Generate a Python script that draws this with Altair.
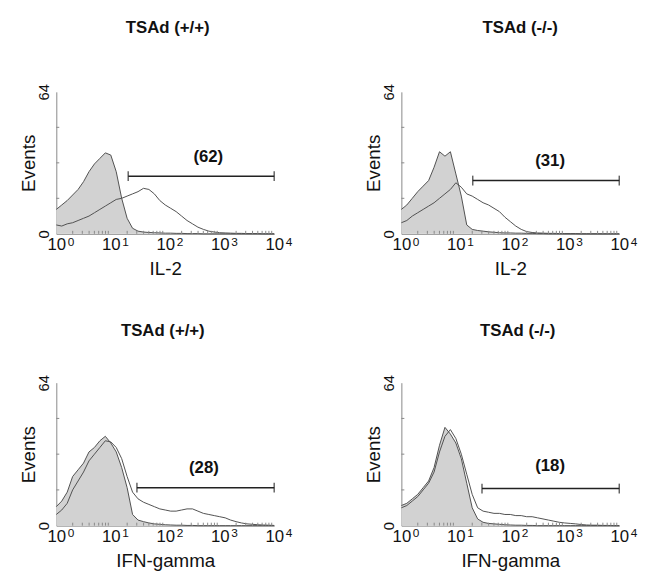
import math
import altair as alt
import pandas as pd

FONT = "Liberation Sans"
INK = "#111111"
CURVE = "#505050"
FILL = "#d2d2d2"

# fluorescence channel (log10 decade) for each histogram point
LOGX = [0.0, 0.1, 0.2, 0.3, 0.4, 0.5, 0.6, 0.7, 0.8, 0.9,
        1.0, 1.1, 1.2, 1.3, 1.4, 1.5, 1.6, 1.7, 1.8, 1.9,
        2.0, 2.1, 2.2, 2.3, 2.4, 2.5, 2.6, 2.7, 2.8, 2.9,
        3.0, 3.1, 3.2, 3.3, 3.4, 3.5, 3.6, 3.7, 3.8, 3.9, 4.0]

# IL-2, TSAd (+/+)
IL2_WT_CTRL = [11, 13, 15, 17.5, 20, 23.5, 28, 31.5, 34, 36.5,
               35.5, 28, 16, 7, 2.5, 1.2, 0.8, 0.6, 0.5, 0.4,
               0.3, 0.3, 0.2, 0.2, 0.1, 0.1, 0.1, 0, 0, 0,
               0, 0, 0, 0, 0, 0, 0, 0, 0, 0, 0]
IL2_WT_STIM = [4, 3.5, 4.5, 5, 6, 7, 8, 9.5, 11, 12.5,
               14, 15.5, 16, 17, 18, 19, 20.5, 20, 18, 15,
               13, 11.5, 10, 8, 6, 4.5, 3, 2, 1.2, 0.8,
               0.5, 0.4, 0.3, 0.2, 0.2, 0.1, 0.1, 0.1, 0, 0, 0]
# IL-2, TSAd (-/-)
IL2_KO_CTRL = [11, 13, 16, 19, 21.5, 24, 30, 37, 35, 37,
               27, 17, 4, 2, 1.5, 1.2, 0.9, 0.7, 0.5, 0.4,
               0.4, 0.3, 0.3, 0.2, 0.2, 0.1, 0.1, 0, 0, 0,
               0, 0, 0, 0, 0, 0, 0, 0, 0, 0, 0]
IL2_KO_STIM = [5, 6, 8, 9.5, 11, 12.5, 14, 16, 18, 20,
               23, 21, 18, 17, 15.5, 14, 13, 11.5, 10, 7.5,
               5.5, 3.5, 2, 1, 0.6, 0.4, 0.3, 0.2, 0.2, 0.1,
               0.1, 0.1, 0.1, 0, 0, 0, 0, 0, 0, 0, 0]
# IFN-gamma, TSAd (+/+)
IFN_WT_CTRL = [8.5, 11, 15, 22, 25, 28, 33, 35, 38, 40,
               37, 33, 26, 17, 5, 2.5, 1.8, 1.2, 0.8, 0.6,
               0.4, 0.3, 0.2, 0.2, 0.1, 0.1, 0, 0, 0, 0,
               0, 0, 0, 0, 0, 0, 0, 0, 0, 0, 0]
IFN_WT_STIM = [5, 7, 10, 16, 20, 24, 29, 32, 35, 38,
               37.5, 35, 30, 22, 15, 12, 10.5, 9.5, 8.5, 7.5,
               7, 6.5, 6.5, 7, 7.5, 7.5, 6.5, 5.5, 5, 4.5,
               4, 3.5, 2.5, 1.8, 1.2, 0.8, 0.6, 0.4, 0.3, 0.2, 0.1]
# IFN-gamma, TSAd (-/-)
IFN_KO_CTRL = [9, 10, 12, 14, 17, 20, 26, 36, 44, 41,
               37, 30, 19, 8, 3, 1.5, 1, 0.8, 0.6, 0.4,
               0.3, 0.2, 0.2, 0.1, 0.1, 0, 0, 0, 0, 0,
               0, 0, 0, 0, 0, 0, 0, 0, 0, 0, 0]
IFN_KO_STIM = [8, 9, 11, 13, 16, 19, 24, 33, 40, 43,
               39, 32, 23, 14, 8, 6.5, 6, 5.5, 5.5, 5,
               5, 4.5, 4.5, 4, 4, 3.5, 3, 2.5, 2, 1.5,
               1.2, 1, 0.8, 0.5, 0.3, 0.2, 0.2, 0.1, 0.1, 0, 0]

# marker gates: start decade, end decade, events level
GATE_START = [1.32, 1.31, 1.48, 1.48]
GATE_END = [4.0, 4.0, 4.0, 4.0]
GATE_LEVEL = [26, 24, 17, 16.6]
# gate percentages and their positions
GATE_TEXT = ["(62)", "(31)", "(28)", "(18)"]
TEXT_X = [2.79, 2.73, 2.71, 2.73]
TEXT_Y = [34.8, 33, 25.9, 26.5]

TITLES = ["TSAd (+/+)", "TSAd (-/-)", "TSAd (+/+)", "TSAd (-/-)"]
XTITLES = ["IL-2", "IL-2", "IFN-gamma", "IFN-gamma"]
DECADES = [0, 1, 2, 3, 4]
EXPONENTS = ["0", "1", "2", "3", "4"]
Y_TICKS = [16, 32, 48]
MINOR_X = [n + math.log10(k) for n in range(4) for k in range(2, 10)]

W, H1, H2 = 221, 144, 145


def panel(i, ctrl, stim, height, title_dx, title_offset):
    curves = pd.DataFrame({
        "logx": LOGX * 2,
        "count": list(ctrl) + list(stim),
        "series": ["ctrl"] * len(LOGX) + ["stim"] * len(LOGX),
    })
    xscale = alt.Scale(domain=[0, 4], nice=False, zero=False)
    xaxis = alt.Axis(values=DECADES, labelExpr="'10'",
                     ticks=False, grid=False, labelFlush=False, labelOverlap=False,
                     labelFontSize=17, labelPadding=3, labelFont=FONT, labelColor=INK,
                     title=XTITLES[i], titleFontSize=19, titleFontWeight="normal",
                     titleFont=FONT, titleColor=INK, titlePadding=7,
                     domainColor="#888888", domainWidth=1)
    x = alt.X("logx:Q", scale=xscale, axis=xaxis)
    y = alt.Y("count:Q", scale=alt.Scale(domain=[0, 64], nice=False),
              axis=alt.Axis(values=[0, 64], labelAngle=270, labelAlign="center",
                            labelBaseline="bottom", ticks=False, grid=False,
                            labelFlush=False, labelOverlap=False,
                            labelFontSize=15, labelPadding=5, labelFont=FONT, labelColor=INK,
                            title="Events", titleFontSize=19, titleFontWeight="normal",
                            titleFont=FONT, titleColor=INK, titlePadding=-2,
                            domainColor="#888888", domainWidth=1))
    base = alt.Chart(curves)
    area = base.transform_filter(alt.datum.series == "ctrl").mark_area(
        color=FILL, interpolate="linear").encode(x=x, y=y)
    lines = base.mark_line(color=CURVE, strokeWidth=1).encode(
        x=x, y=y, detail="series:N")

    gate_df = pd.DataFrame({"logx": [GATE_START[i]], "logx2": [GATE_END[i]],
                            "count": [GATE_LEVEL[i]]})
    gate = alt.Chart(gate_df).mark_rule(color="#222222", strokeWidth=1.5).encode(
        x=x, x2="logx2:Q", y=y)
    caps = alt.Chart(gate_df).transform_fold(
        ["logx", "logx2"], as_=["which", "pos"]
    ).mark_tick(orient="vertical", size=10, thickness=1.5, color="#222222").encode(
        x=alt.X("pos:Q", scale=xscale, axis=xaxis), y=y)
    text_df = pd.DataFrame({"logx": [TEXT_X[i]], "count": [TEXT_Y[i]],
                            "label": [GATE_TEXT[i]]})
    text = alt.Chart(text_df).mark_text(font=FONT, fontSize=17, fontWeight="bold",
                                        color=INK).encode(x=x, y=y, text="label:N")

    exps = alt.Chart(pd.DataFrame({"logx": DECADES, "exp": EXPONENTS})).mark_text(
        font=FONT, fontSize=12, color=INK, dx=15, baseline="top", align="center"
    ).encode(x=x, y=alt.value(height + 3), text="exp:N")

    minor = alt.Chart(pd.DataFrame({"logx": MINOR_X})).mark_rule(
        color="#888888", strokeWidth=1).encode(x=x, y=alt.value(height), y2=alt.value(height - 3))
    yt = alt.Chart(pd.DataFrame({"count": Y_TICKS})).mark_rule(
        color="#888888", strokeWidth=1).encode(y=y, x=alt.value(0), x2=alt.value(3))

    return alt.layer(area, lines, minor, yt, gate, caps, text, exps).properties(
        width=W, height=height,
        title=alt.TitleParams(TITLES[i], fontSize=17, fontWeight="bold", font=FONT,
                              color=INK, anchor="middle", frame="group",
                              dx=title_dx, offset=title_offset))


p1 = panel(0, IL2_WT_CTRL, IL2_WT_STIM, H1, 2.5, 47)
p2 = panel(1, IL2_KO_CTRL, IL2_KO_STIM, H1, 10, 47)
p3 = panel(2, IFN_WT_CTRL, IFN_WT_STIM, H2, -2.5, 35)
p4 = panel(3, IFN_KO_CTRL, IFN_KO_STIM, H2, 7.5, 35)

chart = alt.concat(p1, p2, p3, p4, columns=2, bounds="flush",
                   spacing={"row": 151, "column": 129}).properties(
    padding={"left": 12, "top": 7, "right": 0, "bottom": 0},
    background="white",
).configure_view(stroke=None)

chart.save("out.html", embed_options={"renderer": "svg", "actions": False})
